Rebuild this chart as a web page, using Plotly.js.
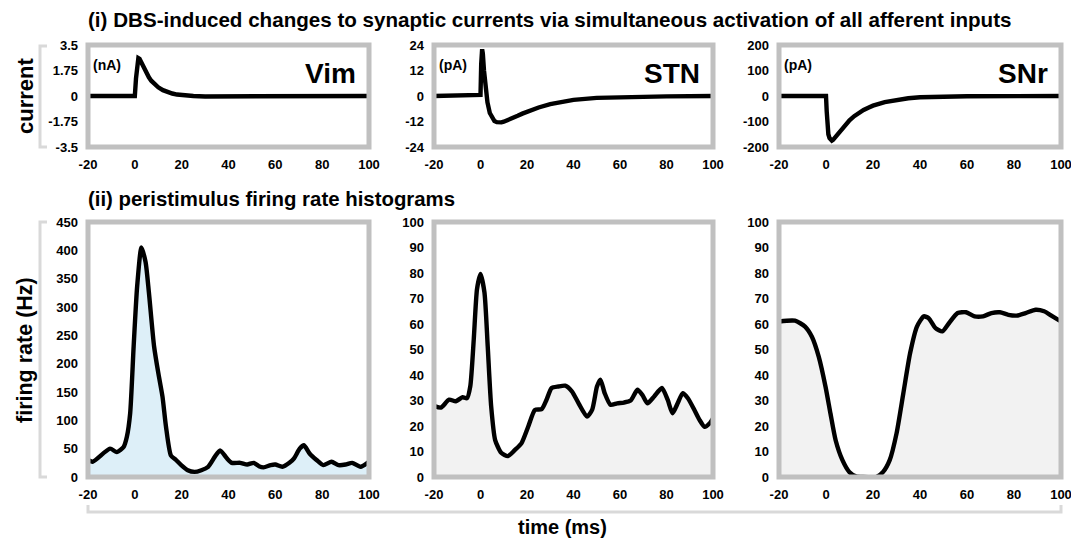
<!DOCTYPE html>
<html><head><meta charset="utf-8">
<script src="https://cdn.plot.ly/plotly-3.0.1.min.js"></script>
<style>html,body{margin:0;padding:0;background:#fff}#chart{width:1071px;height:540px}</style>
</head><body><div id="chart"></div><script>
// ---- data ----
const xTicks = [-20, 0, 20, 40, 60, 80, 100];

const vimCurT = [-20, 0, 0.5, 1, 1.5, 2, 3, 4, 5, 6, 7, 8, 10, 12, 14, 16, 18, 20, 25, 30, 40, 60, 80, 100];
const vimCurV = [0, 0, 1.2, 2.2, 2.6, 2.55, 2.2, 1.85, 1.55, 1.28, 1.05, 0.87, 0.6, 0.4, 0.27, 0.17, 0.1, 0.05, 0, -0.03, -0.02, 0, 0, 0];

const stnCurT = [-20, -10, -1, 0, 0.3, 0.7, 1, 1.5, 2, 3, 4, 5, 6, 7, 8, 9, 10, 12, 14, 16, 18, 20, 25, 30, 35, 40, 50, 60, 80, 100];
const stnCurV = [0, 0, 0, 0.5, 15, 22, 20, 12, 5, -3, -8, -10.5, -11.8, -12.3, -12.5, -12.4, -12.1, -11.3, -10.3, -9.3, -8.3, -7.4, -5.4, -3.8, -2.6, -1.8, -0.9, -0.5, -0.2, 0];

const snrCurT = [-20, 0, 0.3, 0.7, 1, 1.5, 2, 2.5, 3, 4, 5, 6, 8, 10, 12, 14, 16, 18, 20, 25, 30, 35, 40, 50, 60, 100];
const snrCurV = [0, 0, -60, -120, -150, -165, -172, -175, -172, -160, -148, -136, -114, -95, -79, -66, -55, -46, -38, -24, -15, -9, -5, -2, -1, 0];

const vimRateT = [-20, -18, -10.6, -7.7, -4.8, -3.4, -2, -0.5, 1, 2.8, 4.6, 6, 8.2, 10, 11.8, 13.3, 15.4, 17.6, 19.8, 22.6, 25.5, 28.4, 31.3, 34.2, 36.4, 39.3, 41.4, 45, 48, 50.8, 53, 55, 58, 60, 63, 66, 68, 70.4, 72.2, 74.7, 77.6, 80.5, 84, 87, 90, 92.8, 96.4, 100];
const vimRateV = [30, 27, 50, 44, 53, 71, 112, 231, 337, 405, 379, 326, 231, 184, 142, 89, 38, 30, 21, 12, 9, 12, 18, 36, 47, 33, 25, 25, 22, 25, 19, 17, 21, 22, 18, 25, 33, 50, 56, 41, 30, 21, 27, 21, 22, 25, 18, 27];

const stnRateT = [-20, -17.1, -13.5, -10.6, -7.7, -5.8, -4.4, -2.9, -1.5, 0, 1.7, 3.1, 4.6, 6.3, 8.9, 11.8, 14.7, 17.6, 20.5, 23.4, 26.3, 28.4, 30.6, 33.5, 36.4, 39.3, 42.2, 45.8, 48, 50.1, 51.6, 53.4, 55.9, 58.8, 61.7, 64.6, 67.5, 69.6, 71.8, 74.7, 78, 80.5, 82.6, 84.8, 87, 89.2, 92, 94.2, 96.4, 98.6, 100];
const stnRateV = [27.9, 27.2, 30.3, 29.7, 31.3, 30.9, 35.5, 54, 73.7, 79.6, 72.4, 51.3, 27.6, 14.5, 9.5, 8.2, 10.5, 13.2, 19.7, 26.3, 26.6, 30.3, 34.9, 35.5, 35.8, 33.6, 28.9, 23.7, 26.3, 35.5, 38.2, 32.9, 28.3, 28.9, 29.2, 30, 34.2, 32.2, 28.9, 31.6, 34.9, 30.3, 25, 28.9, 32.9, 30.9, 26.3, 22.4, 19.7, 21.1, 23];

const snrRateT = [-20, -13.2, -8.9, -6, -3.1, -0.2, 1.9, 4.1, 7, 9.9, 12.7, 15.6, 21.4, 24.3, 27.1, 30, 32.9, 35.8, 38.7, 41.6, 43.7, 46.6, 49.5, 52.4, 56, 59.6, 63.2, 66.8, 70.4, 74, 77.6, 81.2, 84.9, 89.2, 92.8, 96.4, 100];
const snrRateV = [61, 61.3, 59, 55, 47.2, 35.4, 24.9, 14.4, 6.6, 2, 0.3, 0, 0, 2, 6.6, 17, 32.8, 48.6, 59, 63, 62.3, 58.4, 57.1, 60.4, 64.3, 64.6, 63, 63, 64.3, 64.6, 63.6, 63.3, 64.3, 65.6, 65, 63, 61];

const topYTicks = [[-3.5, -1.75, 0, 1.75, 3.5], [-24, -12, 0, 12, 24], [-200, -100, 0, 100, 200]];
const topYLabels = [["-3.5", "-1.75", "0", "1.75", "3.5"], ["-24", "-12", "0", "12", "24"], ["-200", "-100", "0", "100", "200"]];
const vimRateTicks = [0, 50, 100, 150, 200, 250, 300, 350, 400, 450];
const pctTicks = [0, 10, 20, 30, 40, 50, 60, 70, 80, 90, 100];
const panelNames = ["Vim", "STN", "SNr"];
const unitNames = ["(nA)", "(pA)", "(pA)"];

// ---- layout helpers ----
const W = 1071, H = 540;
const px = x => x / W, py = y => 1 - y / H;
const colsX = [[88, 369], [434, 713], [779, 1061]];
const topY = [45, 147], botY = [222, 477];
const FONT = "Liberation Sans, Arial, sans-serif";
const tickFont = {family: FONT, size: 13, color: "#000", weight: "bold"};
const lineStyle = {color: "#000", width: 4.4};

const traces = [
  {x: vimCurT, y: vimCurV, xaxis: "x", yaxis: "y", mode: "lines", line: lineStyle},
  {x: stnCurT, y: stnCurV, xaxis: "x2", yaxis: "y2", mode: "lines", line: lineStyle},
  {x: snrCurT, y: snrCurV, xaxis: "x3", yaxis: "y3", mode: "lines", line: lineStyle},
  {x: vimRateT, y: vimRateV, xaxis: "x4", yaxis: "y4", mode: "lines", fill: "tozeroy", fillcolor: "#ddeff8", line: Object.assign({shape: "spline", smoothing: 0.6}, lineStyle)},
  {x: stnRateT, y: stnRateV, xaxis: "x5", yaxis: "y5", mode: "lines", fill: "tozeroy", fillcolor: "#f2f2f2", line: Object.assign({shape: "spline", smoothing: 0.6}, lineStyle)},
  {x: snrRateT, y: snrRateV, xaxis: "x6", yaxis: "y6", mode: "lines", fill: "tozeroy", fillcolor: "#f2f2f2", line: Object.assign({shape: "spline", smoothing: 0.6}, lineStyle)}
];
traces.forEach(t => { t.showlegend = false; t.hoverinfo = "skip"; });

const layout = {
  width: W, height: H, margin: {l: 0, r: 0, t: 0, b: 0},
  paper_bgcolor: "#fff", plot_bgcolor: "#fff", showlegend: false,
  font: {family: FONT, color: "#000"},
  shapes: [], annotations: []
};

for (let i = 0; i < 6; i++) {
  const n = i + 1, col = i % 3, top = i < 3;
  const xa = "xaxis" + (n === 1 ? "" : n), ya = "yaxis" + (n === 1 ? "" : n);
  const yr = top ? topY : botY;
  layout[xa] = {
    domain: [px(colsX[col][0]), px(colsX[col][1])], anchor: "y" + (n === 1 ? "" : n),
    range: [-20, 100], tickvals: xTicks, ticktext: xTicks.map(String), tickfont: tickFont,
    showgrid: false, zeroline: false, showline: false, ticks: "", ticklabelstandoff: 8,
    ticklabeloverflow: "allow", fixedrange: true
  };
  let yvals, ytext, yrange;
  if (top) { yvals = topYTicks[col]; ytext = topYLabels[col]; yrange = [yvals[0], yvals[yvals.length - 1]]; }
  else if (col === 0) { yvals = vimRateTicks; ytext = yvals.map(String); yrange = [0, 450]; }
  else { yvals = pctTicks; ytext = yvals.map(String); yrange = [0, 100]; }
  layout[ya] = {
    domain: [py(yr[1]), py(yr[0])], anchor: "x" + (n === 1 ? "" : n),
    range: yrange, tickvals: yvals, ticktext: ytext, tickfont: tickFont,
    showgrid: false, zeroline: false, showline: false, ticks: "", ticklabelstandoff: 9,
    ticklabeloverflow: "allow", fixedrange: true
  };
  const xr = "x" + (n === 1 ? "" : n) + " domain", yrf = "y" + (n === 1 ? "" : n) + " domain";
  layout.shapes.push({type: "rect", xref: xr, yref: yrf, x0: 0, x1: 1, y0: 0, y1: 1, layer: "above", line: {color: "#c0c0c0", width: 5}});
  if (top) {
    layout.annotations.push({xref: xr, yref: yrf, x: 0.96, y: 0.72, text: panelNames[col], showarrow: false, xanchor: "right", yanchor: "middle", font: {family: FONT, size: 28, color: "#000", weight: "bold"}});
    layout.annotations.push({xref: xr, yref: yrf, x: 0.012, y: 0.8, text: unitNames[col], showarrow: false, xanchor: "left", yanchor: "middle", font: {family: FONT, size: 14, color: "#000", weight: "bold"}});
  }
}

// brackets
const brC = "#d9d9d9";
function vBracket(x, y0, y1) {
  layout.shapes.push({type: "path", xref: "paper", yref: "paper", layer: "above",
    path: `M ${px(x + 7)} ${py(y0)} L ${px(x)} ${py(y0)} L ${px(x)} ${py(y1)} L ${px(x + 7)} ${py(y1)}`,
    line: {color: brC, width: 3}});
}
vBracket(40, 46, 147);
vBracket(40, 222, 477);
layout.shapes.push({type: "path", xref: "paper", yref: "paper", layer: "above",
  path: `M ${px(88)} ${py(505)} L ${px(88)} ${py(512)} L ${px(1061)} ${py(512)} L ${px(1061)} ${py(505)}`,
  line: {color: brC, width: 3}});

// titles & axis labels
const ann = (x, y, text, size, opts) => layout.annotations.push(Object.assign({xref: "paper", yref: "paper", x: px(x), y: py(y), text, showarrow: false, font: {family: FONT, size, color: "#000", weight: "bold"}}, opts));
ann(86, 20, "(i) DBS-induced changes to synaptic currents via simultaneous activation of all afferent inputs", 20.6, {xanchor: "left", yanchor: "middle"});
ann(86, 199, "(ii) peristimulus firing rate histograms", 20.4, {xanchor: "left", yanchor: "middle"});
ann(25, 96, "current", 22, {xanchor: "center", yanchor: "middle", textangle: -90});
ann(25, 350, "firing rate (Hz)", 21.5, {xanchor: "center", yanchor: "middle", textangle: -90});
ann(562, 527, "time (ms)", 20, {xanchor: "center", yanchor: "middle"});

Plotly.newPlot("chart", traces, layout, {staticPlot: true, displayModeBar: false});
</script></body></html>
